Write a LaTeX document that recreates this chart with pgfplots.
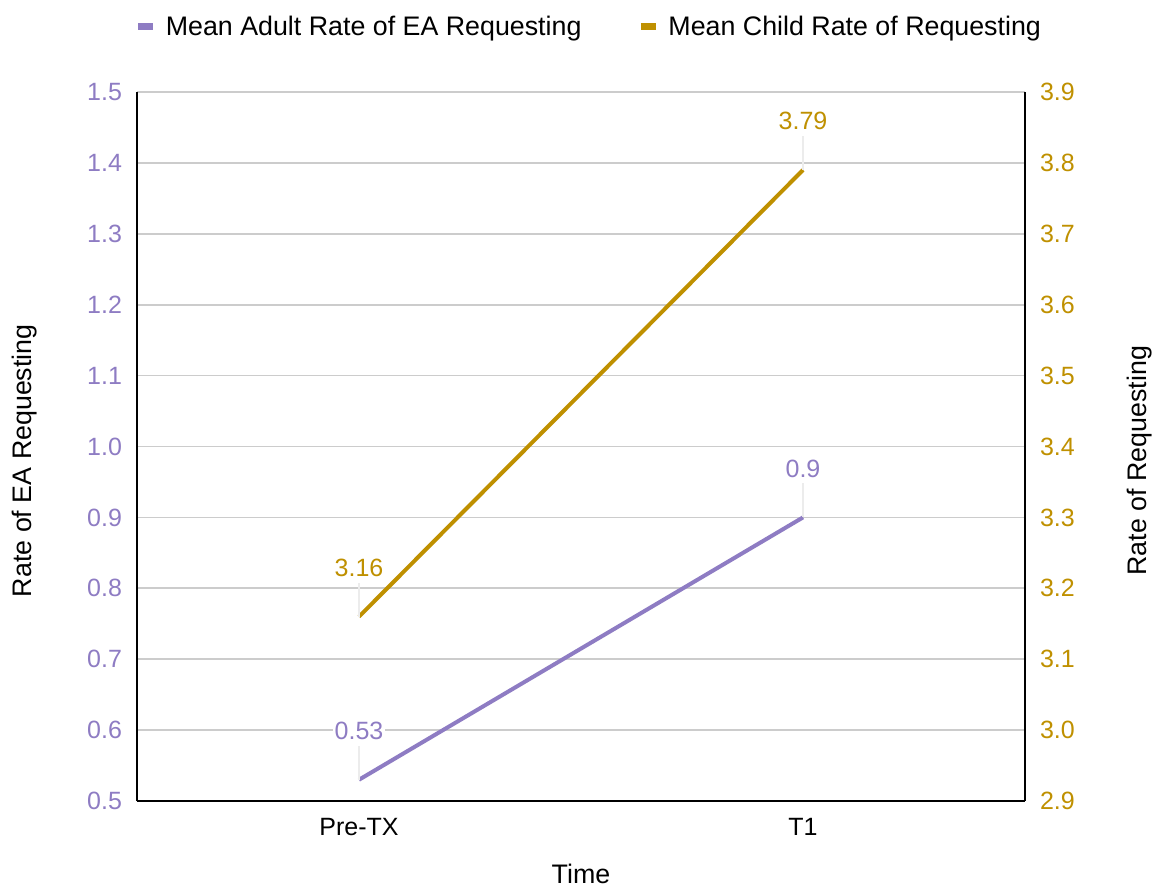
\documentclass[border=0pt]{standalone}
\usepackage{pgfplots}
\pgfplotsset{compat=1.18}
\usepackage{fontspec}
\setmainfont{Liberation Sans}
\definecolor{adult}{HTML}{8E7CC3}
\definecolor{child}{HTML}{BF9000}
\definecolor{gridc}{HTML}{CCCCCC}
% short vertical leader from a point up to its value label
\pgfdeclareplotmark{leader}{%
  \pgfpathmoveto{\pgfpointorigin}%
  \pgfpathlineto{\pgfpoint{0pt}{17pt}}%
  \pgfusepathqstroke}

\begin{document}
\begin{tikzpicture}[font=\fontsize{13.4}{16}\selectfont]
\pgfplotsset{
  base/.style={
    width=444pt, height=354.5pt, scale only axis,
    at={(0,0)}, anchor=south west,
    xmin=-0.5, xmax=1.5, xtick={0,1},
    major tick length=0pt,
    /pgf/number format/assume math mode=true,
    axis line style={black, line width=0.9pt},
    tick label style={font=\fontsize{12.5}{15}\selectfont},
    every node near coord/.append style={font=\fontsize{12.5}{15}\selectfont,
      anchor=south, yshift=18pt, fill=white, inner sep=1pt},
  }
}
\begin{axis}[base,
  axis x line*=bottom, axis y line*=left,
  xticklabels={Pre-TX,T1},
  xticklabel style={yshift=-5pt},
  ymin=0.5, ymax=1.5,
  ytick={0.5,0.6,0.7,0.8,0.9,1.0,1.1,1.2,1.3,1.4,1.5},
  yticklabel style={color=adult, xshift=-4pt,
    /pgf/number format/.cd, fixed, fixed zerofill, precision=1},
  ymajorgrids, grid style={gridc, line width=0.9pt},
  xlabel={Time}, ylabel={Rate of EA Requesting},
  every axis x label/.style={at={(axis description cs:0.5,0)}, yshift=-36.5pt, anchor=center},
  every axis y label/.style={at={(axis description cs:0,0.48)}, xshift=-56pt, rotate=90, anchor=center},
  legend columns=2,
  legend style={draw=none, at={(axis description cs:0.51,1)}, yshift=32.5pt, anchor=center,
    font=\fontsize{13.4}{16}\selectfont,
    /tikz/every odd column/.append style={column sep=2.5pt},
    /tikz/every even column/.append style={column sep=26pt}},
  legend image code/.code={\draw[line width=3.5pt] (0pt,0pt)--(7.5pt,0pt);},
]
\addplot[only marks, mark=leader, mark options={draw=gray!15, line width=0.8pt}, forget plot]
  coordinates {(0,0.53) (1,0.9)};
\addplot[adult, line width=2pt, mark=none, nodes near coords, point meta=explicit symbolic,
  every node near coord/.append style={text=adult}]
  coordinates {(0,0.53) [0.53] (1,0.9) [0.9]};
\addlegendentry{Mean Adult Rate of EA Requesting}
\addlegendimage{child, line width=2pt}
\addlegendentry{Mean Child Rate of Requesting}
\end{axis}

\begin{axis}[base,
  axis x line=none, axis y line*=right,
  ymin=2.9, ymax=3.9,
  ytick={2.9,3.0,3.1,3.2,3.3,3.4,3.5,3.6,3.7,3.8,3.9},
  yticklabel style={color=child, xshift=4pt,
    /pgf/number format/.cd, fixed, fixed zerofill, precision=1},
  ylabel={Rate of Requesting},
  every axis y label/.style={at={(axis description cs:1,0.48)}, xshift=57.5pt, rotate=90, anchor=center},
]
\addplot[only marks, mark=leader, mark options={draw=gray!15, line width=0.8pt}, forget plot]
  coordinates {(0,3.16) (1,3.79)};
\addplot[child, line width=2pt, mark=none, nodes near coords, point meta=explicit symbolic,
  every node near coord/.append style={text=child}]
  coordinates {(0,3.16) [3.16] (1,3.79) [3.79]};
\end{axis}

\pgfresetboundingbox
\path (-68.5pt,-43.5pt) rectangle (508.5pt,400.5pt);
\end{tikzpicture}
\end{document}
